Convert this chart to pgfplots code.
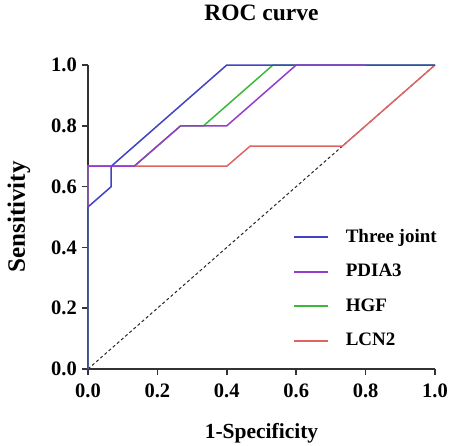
\documentclass[border=0pt]{standalone}
\usepackage{pgfplots}
\pgfplotsset{compat=1.18}
\usepackage{fontspec}
\setmainfont{Liberation Serif}
\definecolor{cblue}{RGB}{66,66,196}
\definecolor{cpurple}{RGB}{150,60,205}
\definecolor{cgreen}{RGB}{60,185,60}
\definecolor{cred}{RGB}{222,100,100}

\begin{document}
\begin{tikzpicture}
\begin{axis}[
    scale only axis, width=347pt, height=304pt,
    xmin=0, xmax=1, ymin=0, ymax=1,
    axis lines=left,
    axis line style={-, line width=1.8pt, black!80},
    xtick={0,0.2,0.4,0.6,0.8,1.0},
    ytick={0,0.2,0.4,0.6,0.8,1.0},
    tick align=outside, major tick length=6pt,
    tick style={line width=1.5pt, black!80},
    /pgf/number format/assume math mode=true,
    /pgf/number format/fixed, /pgf/number format/fixed zerofill,
    /pgf/number format/precision=1,
    ticklabel style={font=\bfseries\fontsize{20.5}{22}\selectfont, inner sep=0pt},
    yticklabel style={xshift=-5pt},
    xticklabel style={yshift=-9pt},
    title={ROC curve},
    title style={font=\bfseries\fontsize{23.5}{25}\selectfont,
        at={(axis description cs:0.5,1)}, anchor=base, yshift=38pt},
    xlabel={1-Specificity},
    ylabel={Sensitivity},
    xlabel style={font=\bfseries\fontsize{21.5}{23}\selectfont,
        at={(axis description cs:0.5,0)}, anchor=base, yshift=-69pt},
    ylabel style={font=\bfseries\fontsize{25}{27}\selectfont,
        at={(axis description cs:-0.1988,0.5)}, anchor=center},
    clip=false,
    legend style={draw=none, fill=none, inner sep=0pt,
        at={(axis description cs:0.5908,0.4638)}, anchor=north west,
        font=\bfseries\fontsize{19}{21}\selectfont,
        row sep=16.5pt, column sep=17pt,
        nodes={inner sep=0pt, text height=14pt, text depth=4pt}},
    legend cell align=left,
    legend image code/.code={\draw[#1, line width=1.6pt] (0pt,0pt) -- (34pt,0pt);},
]
    \addlegendimage{cblue}
    \addlegendimage{cpurple}
    \addlegendimage{cgreen}
    \addlegendimage{cred}
    \legend{Three joint, PDIA3, HGF, LCN2}
    % fixes the page to the reference frame
    \path (axis description cs:-0.25360,-0.24342) rectangle (axis description cs:1.04035,1.21382);
    % reference diagonal
    \addplot[forget plot, black!85, line width=1pt, dash pattern=on 3pt off 2.5pt]
        coordinates {(0,0) (1,1)};
    % LCN2
    \addplot[forget plot, cred, line width=1.5pt]
        coordinates {(0,0) (0,0.667) (0.4,0.667) (0.467,0.733) (0.733,0.733) (1,1)};
    % HGF
    \addplot[forget plot, cgreen, line width=1.5pt]
        coordinates {(0,0) (0,0.667) (0.133,0.667) (0.267,0.8) (0.333,0.8) (0.533,1) (1,1)};
    % Three joint
    \addplot[forget plot, cblue, line width=1.5pt]
        coordinates {(0,0) (0,0.533) (0.067,0.6) (0.067,0.667) (0.4,1) (1,1)};
    % PDIA3
    \addplot[forget plot, cpurple, line width=1.5pt]
        coordinates {(0,0.533) (0,0.667) (0.133,0.667) (0.267,0.8) (0.4,0.8) (0.6,1) (0.8,1)};
\end{axis}
\end{tikzpicture}
\end{document}
